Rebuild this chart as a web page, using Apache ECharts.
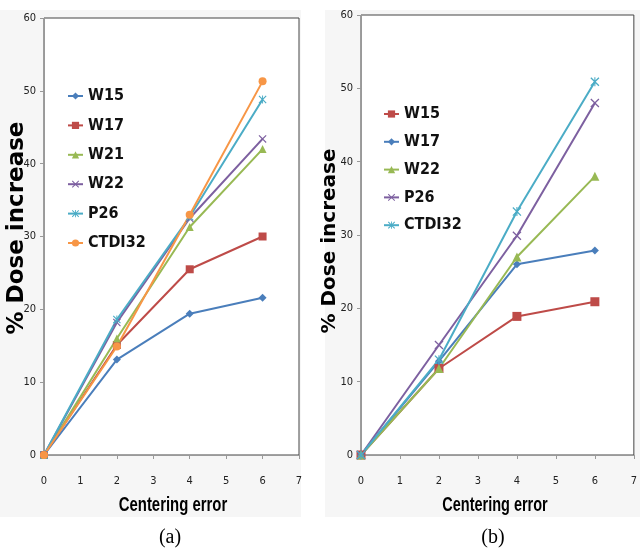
<!DOCTYPE html>
<html>
<head>
<meta charset="utf-8">
<script src="https://cdn.jsdelivr.net/npm/echarts@6/dist/echarts.min.js"></script>
<style>html,body{margin:0;padding:0;background:#fff;}#c{width:640px;height:548px;}</style>
</head>
<body>
<div id="c"></div>
<script>
// ---- data ----
const xValues = [0, 2, 4, 6];
const xTicks = [0, 1, 2, 3, 4, 5, 6, 7];
const yTicks = [0, 10, 20, 30, 40, 50, 60];

// panel (a)
const aNames = ['W15', 'W17', 'W21', 'W22', 'P26', 'CTDI32'];
const aW15 = [0, 13.1, 19.4, 21.6];
const aW17 = [0, 15.1, 25.5, 30.0];
const aW21 = [0, 16.0, 31.3, 42.0];
const aW22 = [0, 18.2, 32.5, 43.4];
const aP26 = [0, 18.6, 32.7, 48.8];
const aCTDI32 = [0, 14.9, 33.0, 51.3];

// panel (b)
const bNames = ['W15', 'W17', 'W22', 'P26', 'CTDI32'];
const bW15 = [0, 11.8, 18.9, 20.9];
const bW17 = [0, 12.8, 26.0, 27.9];
const bW22 = [0, 11.8, 27.0, 38.0];
const bP26 = [0, 15.0, 29.9, 48.0];
const bCTDI32 = [0, 13.0, 33.2, 50.9];

// ---- styles ----
const C = {blue:'#4a7ebb', red:'#be4b48', green:'#98b954', purple:'#7d60a0', cyan:'#4bacc6', orange:'#f79646'};
const XSYM = 'path://M0,1 L1,0 L5,4 L9,0 L10,1 L6,5 L10,9 L9,10 L5,6 L1,10 L0,9 L4,5 Z';
const STAR = 'path://M0,1 L1,0 L5,4 L9,0 L10,1 L6,5 L10,9 L9,10 L5,6 L1,10 L0,9 L4,5 Z M4.4,0 L5.6,0 L5.6,10 L4.4,10 Z';
const NARROW = "'DejaVu Sans Condensed', 'Liberation Sans', sans-serif";

function pts(arr){ return xValues.map((x,i)=>[x, arr[i]]); }

function ser(name, arr, color, symbol, size, idx){
  return {
    name: name, type:'line', xAxisIndex: idx, yAxisIndex: idx,
    data: pts(arr), symbol: symbol, symbolSize: size, showSymbol:true,
    lineStyle:{color: color, width:2}, itemStyle:{color: color},
    emphasis:{disabled:true}, animation:false
  };
}

const tickFont = {fontFamily:NARROW, fontSize:11, color:'#222'};

function xAx(idx){
  return {type:'value', gridIndex: idx, min:0, max:7, interval:1,
    axisLine:{show:true, lineStyle:{color:'#999'}},
    axisTick:{show:true, length:4, lineStyle:{color:'#999'}},
    axisLabel:Object.assign({margin:21}, tickFont),
    splitLine:{show:false}};
}
function yAx(idx){
  return {type:'value', gridIndex: idx, min:0, max:60, interval:10,
    axisLine:{show:true, lineStyle:{color:'#999'}},
    axisTick:{show:true, length:4, lineStyle:{color:'#999'}},
    axisLabel:Object.assign({margin:8}, tickFont),
    splitLine:{show:false}};
}

const legendText = {fontFamily:NARROW, fontWeight:'bold', fontSize:16, color:'#111'};

const option = {
  backgroundColor:'#fff',
  animation:false,
  grid:[
    {left:44, top:18, width:255, height:437, show:true, backgroundColor:'#fff', borderColor:'#444', borderWidth:1},
    {left:361, top:15, width:277, height:440, show:true, backgroundColor:'#fff', borderColor:'#444', borderWidth:1}
  ],
  xAxis:[xAx(0), xAx(1)],
  yAxis:[yAx(0), yAx(1)],
  legend:[
    {orient:'vertical', left:62, top:83, itemWidth:15, itemHeight:9, itemGap:13.4,
     data: aNames.map(n=>'a:'+n), formatter: n=>n.slice(2), textStyle:legendText, selectedMode:false},
    {orient:'vertical', left:378, top:101, itemWidth:15, itemHeight:9, itemGap:11.8,
     data: bNames.map(n=>'b:'+n), formatter: n=>n.slice(2), textStyle:legendText, selectedMode:false}
  ],
  graphic:[
    {type:'rect', z:-10, shape:{x:0, y:10, width:301, height:507}, style:{fill:'#f6f6f6'}, silent:true},
    {type:'rect', z:-10, shape:{x:325, y:10, width:315, height:507}, style:{fill:'#f6f6f6'}, silent:true},
    {type:'text', x:17, y:228, rotation:Math.PI/2, style:{text:'% Dose increase', font:'bold 23px "DejaVu Sans"', fill:'#000', align:'center', verticalAlign:'middle'}},
    {type:'text', x:330, y:241, rotation:Math.PI/2, style:{text:'% Dose increase', font:'bold 20px "DejaVu Sans"', fill:'#000', align:'center', verticalAlign:'middle'}},
    {type:'text', x:173, y:505, scaleX:0.71, style:{text:'Centering error', font:'bold 21px "Liberation Sans"', fill:'#000', align:'center', verticalAlign:'middle'}},
    {type:'text', x:495, y:505, scaleX:0.69, style:{text:'Centering error', font:'bold 21px "Liberation Sans"', fill:'#000', align:'center', verticalAlign:'middle'}},
    {type:'text', x:170, y:538, style:{text:'(a)', font:'20px "Liberation Serif"', fill:'#000', align:'center', verticalAlign:'middle'}},
    {type:'text', x:493, y:538, style:{text:'(b)', font:'20px "Liberation Serif"', fill:'#000', align:'center', verticalAlign:'middle'}}
  ],
  series:[
    ser('a:W15', aW15, C.blue, 'diamond', 8, 0),
    ser('a:W17', aW17, C.red, 'rect', 8, 0),
    ser('a:W21', aW21, C.green, 'triangle', 8, 0),
    ser('a:W22', aW22, C.purple, XSYM, 8, 0),
    ser('a:P26', aP26, C.cyan, STAR, 8, 0),
    ser('a:CTDI32', aCTDI32, C.orange, 'circle', 8, 0),
    ser('b:W15', bW15, C.red, 'rect', 9, 1),
    ser('b:W17', bW17, C.blue, 'diamond', 8, 1),
    ser('b:W22', bW22, C.green, 'triangle', 9, 1),
    ser('b:P26', bP26, C.purple, XSYM, 9, 1),
    ser('b:CTDI32', bCTDI32, C.cyan, STAR, 9, 1)
  ]
};

const chart = echarts.init(document.getElementById('c'), null, {renderer:'canvas'});
chart.setOption(option);
</script>
</body>
</html>
